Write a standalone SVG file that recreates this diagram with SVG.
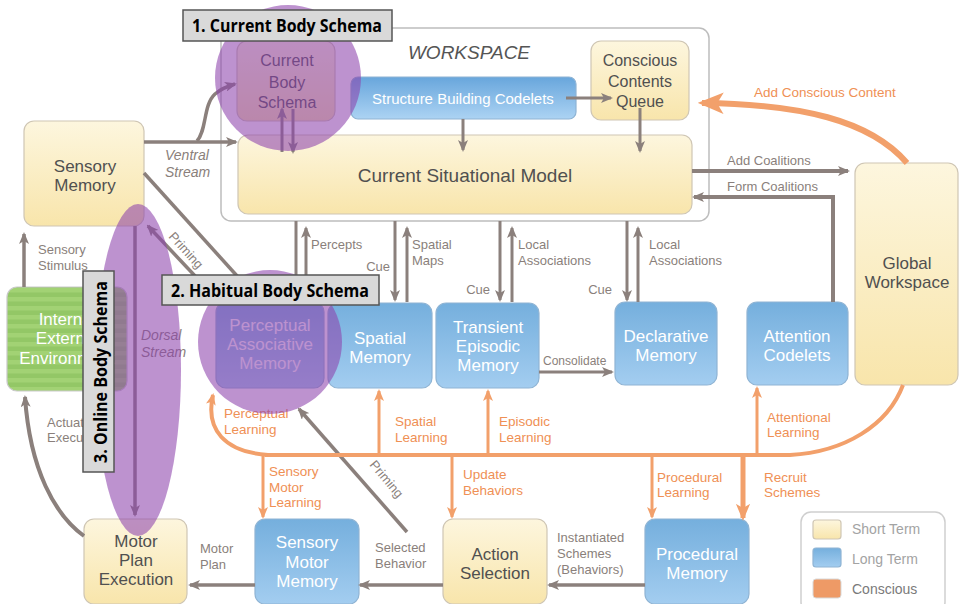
<svg xmlns="http://www.w3.org/2000/svg" width="959" height="604" viewBox="0 0 959 604">
<defs>
  <linearGradient id="gY" x1="0" y1="0" x2="0" y2="1"><stop offset="0" stop-color="#fdf6de"/><stop offset="1" stop-color="#f8e5ab"/></linearGradient>
  <linearGradient id="gB" x1="0" y1="0" x2="0" y2="1"><stop offset="0" stop-color="#75afdd"/><stop offset="1" stop-color="#a3cdf0"/></linearGradient>
  <linearGradient id="gS" x1="0" y1="0" x2="0" y2="1"><stop offset="0" stop-color="#68a6dc"/><stop offset="1" stop-color="#acd3f3"/></linearGradient>
  <pattern id="stripes" width="10" height="9" patternUnits="userSpaceOnUse"><rect width="10" height="9" fill="#a2d274"/><rect y="4.5" width="10" height="4.5" fill="#93c766"/></pattern>
  <marker id="ag" viewBox="0 0 12 10" refX="10" refY="5" markerWidth="12" markerHeight="10" markerUnits="userSpaceOnUse" orient="auto"><path d="M0,0 L12,5 L0,10 L3,5 Z" fill="#8b807c"/></marker>
  <marker id="ao" viewBox="0 0 12 10" refX="10" refY="5" markerWidth="12" markerHeight="10" markerUnits="userSpaceOnUse" orient="auto"><path d="M0,0 L12,5 L0,10 L3,5 Z" fill="#f2a06b"/></marker>
  <marker id="aoL" viewBox="0 0 12 10" refX="10" refY="5" markerWidth="17" markerHeight="15" markerUnits="userSpaceOnUse" orient="auto"><path d="M0,0 L12,5 L0,10 L3,5 Z" fill="#f2a06b"/></marker>
  <marker id="aoXL" viewBox="0 0 12 10" refX="10" refY="5" markerWidth="26" markerHeight="22" markerUnits="userSpaceOnUse" orient="auto"><path d="M0,0 L12,5 L0,10 L3,5 Z" fill="#f2a06b"/></marker>
</defs>
<style>
  text { font-family: "Liberation Sans", Arial, sans-serif; }
  .y { fill: url(#gY); stroke: #cfc6b4; stroke-width: 1.2; }
  .b { fill: url(#gB); stroke: #8fb4d4; stroke-width: 1.2; }
  .td { font-size: 17px; fill: #505050; text-anchor: middle; }
  .tw { font-size: 17px; fill: #ffffff; text-anchor: middle; }
  .lab { font-size: 13px; fill: #8a7f7b; }
  .it { font-style: italic; font-size: 14px; fill: #8a7f7b; }
  .ol { font-size: 13.5px; fill: #ef9055; }
  .g { stroke: #8b807c; stroke-width: 3.5; fill: none; }
  .ga { stroke: #8b807c; stroke-width: 3.5; fill: none; marker-end: url(#ag); }
  .oa { stroke: #f2a06b; stroke-width: 3; fill: none; marker-end: url(#ao); }
  .ov { fill: #8e44ad; opacity: 0.58; }
  .tag { fill: #d9d9d9; stroke: #555; stroke-width: 1.5; }
  .tagt { font-family: "Open Sans", "Liberation Sans", sans-serif; font-weight: bold; font-size: 18px; fill: #000; }
</style>
<rect width="959" height="604" fill="#ffffff"/>

<g id="workspace">
  <rect x="221" y="28" width="488" height="193" rx="10" fill="#fff" stroke="#bdbdbd" stroke-width="1.5"/>
  <text x="469" y="59" text-anchor="middle" font-size="19" font-style="italic" fill="#555">WORKSPACE</text>
</g>

<g id="current-body-schema">
  <rect class="y" x="237" y="41" width="98" height="80" rx="10"/>
  <text class="td" x="287" y="66" style="font-size:16px">Current</text>
  <text class="td" x="287" y="88" style="font-size:16px">Body</text>
  <text class="td" x="287" y="108" style="font-size:16px">Schema</text>
</g>
<g id="structure-building-codelets">
  <rect x="351" y="77" width="225" height="42" rx="7" fill="url(#gS)" stroke="#8fb4d4" stroke-width="1.2"/>
  <text class="tw" x="463" y="104" style="font-size:15px">Structure Building Codelets</text>
</g>
<g id="conscious-contents-queue">
  <rect class="y" x="591" y="41" width="98" height="79" rx="10"/>
  <text class="td" x="640" y="66" style="font-size:16px">Conscious</text>
  <text class="td" x="640" y="87" style="font-size:16px">Contents</text>
  <text class="td" x="640" y="107" style="font-size:16px">Queue</text>
</g>
<g id="current-situational-model">
  <rect class="y" x="238" y="135" width="454" height="79" rx="10"/>
  <text class="td" x="465" y="182" style="font-size:19px">Current Situational Model</text>
</g>
<g id="sensory-memory">
  <rect class="y" x="24" y="121" width="120" height="105" rx="10"/>
  <text class="td" x="85" y="172">Sensory</text>
  <text class="td" x="85" y="191">Memory</text>
</g>
<g id="environment">
  <rect x="7" y="287" width="120" height="104" rx="10" fill="url(#stripes)" stroke="#c9c9c9" stroke-width="1.2"/>
  <text class="tw" x="67" y="325">Internal</text>
  <text class="tw" x="67" y="344">External</text>
  <text class="tw" x="67" y="364">Environment</text>
</g>
<g id="perceptual-associative-memory">
  <rect class="b" x="216" y="302" width="108" height="86" rx="10"/>
  <text class="tw" x="270" y="331">Perceptual</text>
  <text class="tw" x="270" y="350">Associative</text>
  <text class="tw" x="270" y="369">Memory</text>
</g>
<g id="spatial-memory">
  <rect class="b" x="328" y="303" width="104" height="85" rx="10"/>
  <text class="tw" x="380" y="344">Spatial</text>
  <text class="tw" x="380" y="363">Memory</text>
</g>
<g id="transient-episodic-memory">
  <rect class="b" x="436" y="303" width="103" height="85" rx="10"/>
  <text class="tw" x="488" y="333">Transient</text>
  <text class="tw" x="488" y="352">Episodic</text>
  <text class="tw" x="488" y="371">Memory</text>
</g>
<g id="declarative-memory">
  <rect class="b" x="615" y="302" width="102" height="83" rx="10"/>
  <text class="tw" x="666" y="342">Declarative</text>
  <text class="tw" x="666" y="361">Memory</text>
</g>
<g id="attention-codelets">
  <rect class="b" x="747" y="302" width="101" height="83" rx="10"/>
  <text class="tw" x="797" y="342">Attention</text>
  <text class="tw" x="797" y="361">Codelets</text>
</g>
<g id="global-workspace">
  <rect class="y" x="855" y="163" width="103" height="222" rx="10"/>
  <text class="td" x="907" y="269">Global</text>
  <text class="td" x="907" y="288">Workspace</text>
</g>
<g id="motor-plan-execution">
  <rect class="y" x="84" y="519" width="103" height="85" rx="10"/>
  <text class="td" x="136" y="547">Motor</text>
  <text class="td" x="136" y="566">Plan</text>
  <text class="td" x="136" y="585">Execution</text>
</g>
<g id="sensory-motor-memory">
  <rect class="b" x="255" y="519" width="104" height="85" rx="10"/>
  <text class="tw" x="307" y="548">Sensory</text>
  <text class="tw" x="307" y="568">Motor</text>
  <text class="tw" x="307" y="587">Memory</text>
</g>
<g id="action-selection">
  <rect class="y" x="443" y="519" width="104" height="85" rx="10"/>
  <text class="td" x="495" y="560">Action</text>
  <text class="td" x="495" y="579">Selection</text>
</g>
<g id="procedural-memory">
  <rect class="b" x="645" y="519" width="104" height="85" rx="10"/>
  <text class="tw" x="697" y="560">Procedural</text>
  <text class="tw" x="697" y="579">Memory</text>
</g>
<g id="legend">
  <rect x="801" y="512" width="144" height="100" rx="10" fill="#fff" stroke="#cfcfcf" stroke-width="1.5"/>
  <rect class="y" x="813" y="520" width="28" height="19" rx="3"/>
  <rect class="b" x="813" y="548" width="28" height="19" rx="3"/>
  <rect x="813" y="579" width="28" height="19" rx="3" fill="#ee9a66" stroke="#d9d9d9"/>
  <text x="852" y="534" font-size="14" fill="#a3a3a3">Short Term</text>
  <text x="852" y="564" font-size="14" fill="#a3a3a3">Long Term</text>
  <text x="852" y="594" font-size="14" fill="#7a7a7a">Conscious</text>
</g>

<g id="connectors">
  <line class="ga" x1="144" y1="142" x2="236" y2="142"/>
  <path class="ga" d="M197,141 C207,130 203,105 215,94 C222,88 228,86 235,84"/>
  <line class="ga" x1="282" y1="152" x2="282" y2="109" style="stroke-width:3"/>
  <line class="ga" x1="293" y1="109" x2="293" y2="152" style="stroke-width:3"/>
  <line class="ga" x1="463" y1="119" x2="463" y2="150" style="stroke-width:3"/>
  <line class="ga" x1="566" y1="98" x2="611" y2="98" style="stroke-width:3"/>
  <line class="ga" x1="640" y1="108" x2="640" y2="151" style="stroke-width:3"/>
  <line class="g" x1="296" y1="221" x2="296" y2="278" style="stroke-width:3"/>
  <line class="ga" x1="306" y1="280" x2="306" y2="228" style="stroke-width:3"/>
  <line class="ga" x1="395" y1="221" x2="395" y2="300" style="stroke-width:3"/>
  <line class="ga" x1="407" y1="302" x2="407" y2="228" style="stroke-width:3"/>
  <line class="ga" x1="500" y1="221" x2="500" y2="300" style="stroke-width:3"/>
  <line class="ga" x1="512" y1="302" x2="512" y2="228" style="stroke-width:3"/>
  <line class="ga" x1="627" y1="221" x2="627" y2="300" style="stroke-width:3"/>
  <line class="ga" x1="638" y1="302" x2="638" y2="228" style="stroke-width:3"/>
  <line class="ga" x1="692" y1="171" x2="848" y2="171" style="stroke-width:4"/>
  <path class="ga" d="M833,302 L833,197 L694,197" style="stroke-width:4"/>
  <line class="ga" x1="539" y1="372" x2="612" y2="372" style="stroke-width:3"/>
  <line class="ga" x1="24" y1="287" x2="24" y2="234"/>
  <line class="g" x1="144" y1="173" x2="238" y2="277"/>
  <line class="ga" x1="196" y1="277" x2="148" y2="226"/>
  <line class="ga" x1="135" y1="226" x2="135" y2="515"/>
  <line class="ga" x1="407" y1="532" x2="299" y2="409"/>
  <line class="ga" x1="645" y1="585" x2="549" y2="585"/>
  <line class="ga" x1="443" y1="585" x2="360" y2="585"/>
  <line class="ga" x1="255" y1="585" x2="190" y2="585"/>
  <path class="ga" d="M84,536 C55,515 30,470 25,397" style="stroke-width:4"/>
  <path d="M265,455 L790,455 C845,452 888,425 903,385" fill="none" stroke="#f2a06b" stroke-width="4"/>
  <path class="oa" d="M268,455 C225,452 205,430 213,395" style="stroke-width:4"/>
  <line class="oa" x1="379" y1="455" x2="379" y2="391"/>
  <line class="oa" x1="488" y1="455" x2="488" y2="391"/>
  <line class="oa" x1="757" y1="455" x2="757" y2="388"/>
  <line class="oa" x1="263" y1="455" x2="263" y2="517"/>
  <line class="oa" x1="452" y1="455" x2="452" y2="517"/>
  <line class="oa" x1="652" y1="455" x2="652" y2="517"/>
  <line x1="743" y1="455" x2="743" y2="518" stroke="#f2a06b" stroke-width="5" marker-end="url(#aoL)"/>
  <path d="M907,163 C870,120 800,104 702,103" fill="none" stroke="#f2a06b" stroke-width="6" marker-end="url(#aoXL)"/>
</g>

<g id="connector-labels">
  <text class="it" x="165" y="160">Ventral</text>
  <text class="it" x="165" y="177">Stream</text>
  <text class="it" x="141" y="340">Dorsal</text>
  <text class="it" x="141" y="357">Stream</text>
  <text class="lab" x="38" y="254">Sensory</text>
  <text class="lab" x="38" y="270">Stimulus</text>
  <text class="lab" x="47" y="427">Actuator</text>
  <text class="lab" x="47" y="442">Execution</text>
  <text class="lab" transform="translate(168,237) rotate(48)">Priming</text>
  <text class="lab" transform="translate(369,465) rotate(50)">Priming</text>
  <text class="lab" x="311" y="249">Percepts</text>
  <text class="lab" x="412" y="249">Spatial</text>
  <text class="lab" x="412" y="265">Maps</text>
  <text class="lab" x="518" y="249">Local</text>
  <text class="lab" x="518" y="265">Associations</text>
  <text class="lab" x="649" y="249">Local</text>
  <text class="lab" x="649" y="265">Associations</text>
  <text class="lab" x="390" y="271" text-anchor="end">Cue</text>
  <text class="lab" x="490" y="294" text-anchor="end">Cue</text>
  <text class="lab" x="612" y="294" text-anchor="end">Cue</text>
  <text class="lab" x="543" y="365" style="font-size:12px">Consolidate</text>
  <text class="lab" x="727" y="165">Add Coalitions</text>
  <text class="lab" x="727" y="191">Form Coalitions</text>
  <text class="lab" x="557" y="542">Instantiated</text>
  <text class="lab" x="557" y="558">Schemes</text>
  <text class="lab" x="557" y="574">(Behaviors)</text>
  <text class="lab" x="375" y="552">Selected</text>
  <text class="lab" x="375" y="568">Behavior</text>
  <text class="lab" x="200" y="553">Motor</text>
  <text class="lab" x="200" y="569">Plan</text>
  <text class="ol" x="754" y="97">Add Conscious Content</text>
  <text class="ol" x="224" y="418">Perceptual</text>
  <text class="ol" x="224" y="434">Learning</text>
  <text class="ol" x="395" y="426">Spatial</text>
  <text class="ol" x="395" y="442">Learning</text>
  <text class="ol" x="499" y="426">Episodic</text>
  <text class="ol" x="499" y="442">Learning</text>
  <text class="ol" x="767" y="422">Attentional</text>
  <text class="ol" x="767" y="437">Learning</text>
  <text class="ol" x="269" y="476">Sensory</text>
  <text class="ol" x="269" y="492">Motor</text>
  <text class="ol" x="269" y="507">Learning</text>
  <text class="ol" x="463" y="479">Update</text>
  <text class="ol" x="463" y="495">Behaviors</text>
  <text class="ol" x="657" y="482">Procedural</text>
  <text class="ol" x="657" y="497">Learning</text>
  <text class="ol" x="764" y="482">Recruit</text>
  <text class="ol" x="764" y="497">Schemes</text>
</g>

<g id="body-schemas">
  <circle class="ov" cx="288" cy="78" r="73"/>
  <circle class="ov" cx="270" cy="342" r="72"/>
  <ellipse class="ov" cx="138" cy="370" rx="43" ry="166"/>
  <rect class="tag" x="183" y="10" width="209" height="31"/>
  <text class="tagt" x="192" y="32" textLength="190" lengthAdjust="spacingAndGlyphs">1. Current Body Schema</text>
  <rect class="tag" x="162" y="275" width="217" height="30"/>
  <text class="tagt" x="171" y="297" textLength="198" lengthAdjust="spacingAndGlyphs">2. Habitual Body Schema</text>
  <rect class="tag" x="83" y="271" width="31" height="201"/>
  <text class="tagt" transform="translate(107,463) rotate(-90)" textLength="182" lengthAdjust="spacingAndGlyphs">3. Online Body Schema</text>
</g>
</svg>
